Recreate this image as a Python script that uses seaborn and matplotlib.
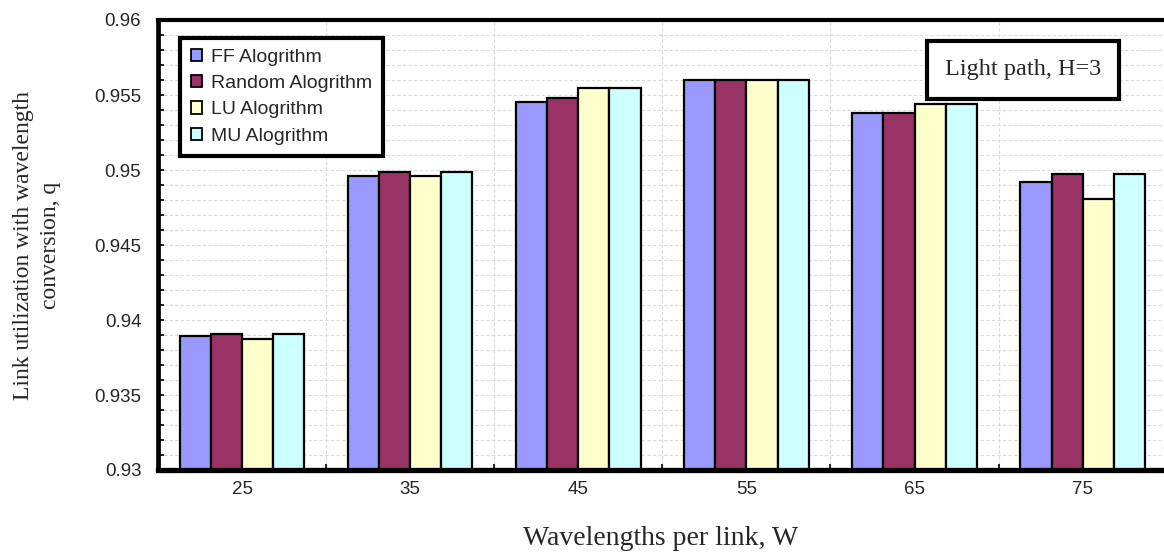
import numpy as np
import pandas as pd
import matplotlib
matplotlib.use("Agg")
import matplotlib.pyplot as plt
from matplotlib.ticker import MultipleLocator, FixedLocator
from matplotlib.patches import Patch
import seaborn as sns

categories = ["25", "35", "45", "55", "65", "75"]
series_names = ["FF Alogrithm", "Random Alogrithm", "LU Alogrithm", "MU Alogrithm"]
ff_values = [0.93893, 0.9496, 0.95453, 0.9560, 0.9538, 0.9492]
random_values = [0.93905, 0.94987, 0.9548, 0.9560, 0.9538, 0.94973]
lu_values = [0.93875, 0.9496, 0.95547, 0.9560, 0.9544, 0.94807]
mu_values = [0.93905, 0.94987, 0.95547, 0.9560, 0.9544, 0.94973]
colors = ["#9999FF", "#993366", "#FFFFCC", "#CCFFFF"]
y_ticks = [0.93, 0.935, 0.94, 0.945, 0.95, 0.955, 0.96]
y_tick_labels = ["0.93", "0.935", "0.94", "0.945", "0.95", "0.955", "0.96"]

rows = []
for name, vals in zip(series_names, [ff_values, random_values, lu_values, mu_values]):
    for c, v in zip(categories, vals):
        rows.append({"W": c, "q": v, "Algorithm": name})
df = pd.DataFrame(rows)

sns.set_theme(style="white")
plt.rcParams["font.family"] = ["Liberation Sans", "DejaVu Sans"]

fig = plt.figure(figsize=(11.64, 5.54), dpi=100)
ax = fig.add_axes([158 / 1164, 1 - 470 / 554, (1164 - 158) / 1164, 450 / 554])

sns.barplot(data=df, x="W", y="q", hue="Algorithm", hue_order=series_names,
            order=categories, palette=colors, width=0.74, gap=0,
            edgecolor="black", linewidth=1.6, saturation=1, ax=ax, legend=False,
            zorder=3)

ax.set_ylim(0.93, 0.96)
ax.set_xlim(-0.5, (1164 - 240) / 168.5)

ax.yaxis.set_major_locator(FixedLocator(y_ticks))
ax.set_yticklabels(y_tick_labels)
ax.yaxis.set_minor_locator(MultipleLocator(0.001))
ax.xaxis.set_minor_locator(FixedLocator([i + 0.5 for i in range(len(categories))]))

ax.grid(which="both", axis="y", color="#dadada", linestyle=(0, (3, 2)), linewidth=0.8, zorder=0)
ax.grid(which="minor", axis="x", color="#dadada", linestyle=(0, (3, 2)), linewidth=0.8, zorder=0)
ax.set_axisbelow(True)

ax.tick_params(axis="y", which="both", direction="in", length=4, width=1.2, color="black",
               labelsize=13.5, pad=12, left=True)
ax.tick_params(axis="x", which="major", length=0, labelsize=13.5, pad=8)
ax.tick_params(axis="x", which="minor", direction="in", length=4, width=1.2, color="black", bottom=True)

for s in ["left", "bottom", "top"]:
    ax.spines[s].set_visible(True)
    ax.spines[s].set_color("black")
    ax.spines[s].set_zorder(5)
ax.spines["left"].set_linewidth(3.4)
ax.spines["bottom"].set_linewidth(3.8)
ax.spines["top"].set_linewidth(3.0)
ax.spines["right"].set_visible(False)

ax.set_xlabel("Wavelengths per link, W", family=["Liberation Serif"], fontsize=20, labelpad=20)
ax.set_ylabel("Link utilization with wavelength\nconversion, q", family=["Liberation Serif"],
              fontsize=17, labelpad=24, linespacing=1.35)

handles = [Patch(facecolor=c, edgecolor="black", linewidth=1.3) for c in colors]
leg = ax.legend(handles, series_names, loc="upper left",
                bbox_to_anchor=(180 / 1164, 1 - 38 / 554), bbox_transform=fig.transFigure,
                frameon=True, fancybox=False, framealpha=1, fontsize=14,
                handlelength=0.6, handleheight=0.6, handletextpad=0.45,
                labelspacing=0.48, borderpad=0.55, borderaxespad=0)
leg.get_frame().set_edgecolor("black")
leg.get_frame().set_linewidth(3.0)
leg.set_zorder(6)

fig.text(1023 / 1164, 1 - 70 / 554, "Light path, H=3", family=["Liberation Serif"], fontsize=17.5,
         ha="center", va="center",
         bbox=dict(boxstyle="square,pad=0.75", facecolor="white", edgecolor="black", linewidth=3.0))

fig.savefig("out.png", dpi=100)
